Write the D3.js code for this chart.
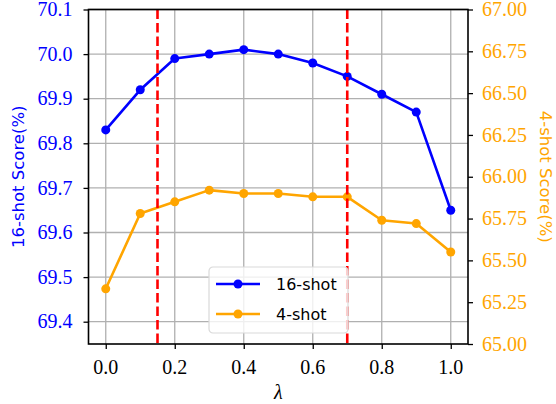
<!DOCTYPE html>
<html>
<head>
<meta charset="utf-8">
<script src="https://cdn.jsdelivr.net/npm/d3@7"></script>
</head>
<body style="margin:0">
<script>
// data
var lambdas = [0.0, 0.1, 0.2, 0.3, 0.4, 0.5, 0.6, 0.7, 0.8, 0.9, 1.0];
var shot16 = [69.83, 69.92, 69.99, 70.00, 70.01, 70.00, 69.98, 69.95, 69.91, 69.87, 69.65];
var shot4 = [65.33, 65.78, 65.85, 65.92, 65.90, 65.90, 65.88, 65.88, 65.74, 65.72, 65.55];
var xTicks = [0.0, 0.2, 0.4, 0.6, 0.8, 1.0];
var leftTicks = [69.4, 69.5, 69.6, 69.7, 69.8, 69.9, 70.0, 70.1];
var rightTicks = [65.00, 65.25, 65.50, 65.75, 66.00, 66.25, 66.50, 66.75, 67.00];
var splitLines = [0.15, 0.7];

var width = 556, height = 404;
var plot = {left: 88.5, right: 468, top: 9.5, bottom: 344};

var blue = "#0000ff", orange = "#ffa500";
var serif = "Liberation Serif";
var sans = "DejaVu Sans";

var svg = d3.select("body")
  .append("svg")
  .attr("width", width)
  .attr("height", height)
  .style("display", "block");

var x = d3.scaleLinear().domain([-0.05, 1.05]).range([plot.left, plot.right]);
var yLeft = d3.scaleLinear().domain([69.35, 70.1]).range([plot.bottom, plot.top]);
var yRight = d3.scaleLinear().domain([65, 67]).range([plot.bottom, plot.top]);

// grid
var grid = svg.append("g");
grid.selectAll(".vg").data(xTicks).enter().append("line")
  .attr("x1", d => x(d)).attr("x2", d => x(d))
  .attr("y1", plot.top).attr("y2", plot.bottom)
  .attr("stroke", "#b0b0b0").attr("stroke-width", 1.3);
grid.selectAll(".hg").data(leftTicks).enter().append("line")
  .attr("x1", plot.left).attr("x2", plot.right)
  .attr("y1", d => yLeft(d)).attr("y2", d => yLeft(d))
  .attr("stroke", "#b0b0b0").attr("stroke-width", 1.3);

// series
function drawSeries(values, yScale, color) {
  var line = d3.line().x((d, i) => x(lambdas[i])).y(d => yScale(d));
  svg.append("path").datum(values)
    .attr("d", line)
    .attr("fill", "none")
    .attr("stroke", color)
    .attr("stroke-width", 2.6)
    .attr("stroke-linejoin", "round");
  svg.selectAll(null).data(values).enter().append("circle")
    .attr("cx", (d, i) => x(lambdas[i]))
    .attr("cy", d => yScale(d))
    .attr("r", 4.5)
    .attr("fill", color);
}
drawSeries(shot16, yLeft, blue);
drawSeries(shot4, yRight, orange);

// red dashed split lines
svg.selectAll(".split").data(splitLines).enter().append("line")
  .attr("x1", d => x(d)).attr("x2", d => x(d))
  .attr("y1", plot.top).attr("y2", plot.bottom)
  .attr("stroke", "#ff0000").attr("stroke-width", 2.6)
  .attr("stroke-dasharray", "9.5,4");

// axes: ticks drawn by d3, labels placed with the same scales
var xAxis = svg.append("g")
  .attr("transform", "translate(0," + plot.bottom + ")")
  .call(d3.axisBottom(x).tickValues(xTicks).tickFormat("").tickSizeOuter(0).tickSize(5));
var lAxis = svg.append("g")
  .attr("transform", "translate(" + plot.left + ",0)")
  .call(d3.axisLeft(yLeft).tickValues(leftTicks).tickFormat("").tickSizeOuter(0).tickSize(5));
var rAxis = svg.append("g")
  .attr("transform", "translate(" + plot.right + ",0)")
  .call(d3.axisRight(yRight).tickValues(rightTicks).tickFormat("").tickSizeOuter(0).tickSize(5));
[xAxis, lAxis, rAxis].forEach(function(a) {
  a.select(".domain").remove();
  a.selectAll(".tick text").remove();
  a.selectAll(".tick line").attr("stroke", "#000").attr("stroke-width", 1.3);
});

svg.selectAll(".xl").data(xTicks).enter().append("text")
  .attr("x", d => x(d)).attr("y", plot.bottom + 29.5)
  .attr("text-anchor", "middle")
  .attr("font-family", serif).attr("font-size", 20)
  .attr("fill", "#000")
  .text(d3.format(".1f"));
svg.selectAll(".ll").data(leftTicks).enter().append("text")
  .attr("x", plot.left - 16).attr("y", d => yLeft(d) + 6.6)
  .attr("text-anchor", "end")
  .attr("font-family", serif).attr("font-size", 20)
  .attr("fill", blue)
  .text(d3.format(".1f"));
svg.selectAll(".rl").data(rightTicks).enter().append("text")
  .attr("x", plot.right + 14).attr("y", d => yRight(d) + 6.6)
  .attr("text-anchor", "start")
  .attr("font-family", serif).attr("font-size", 20)
  .attr("fill", orange)
  .text(d3.format(".2f"));

// frame
svg.append("rect")
  .attr("x", plot.left).attr("y", plot.top)
  .attr("width", plot.right - plot.left).attr("height", plot.bottom - plot.top)
  .attr("fill", "none").attr("stroke", "#000").attr("stroke-width", 1.6);

// axis labels
var midY = (plot.top + plot.bottom) / 2;
svg.append("text")
  .attr("transform", "translate(24," + midY + ") rotate(-90)")
  .attr("text-anchor", "middle")
  .attr("font-family", sans).attr("font-size", 16.5)
  .attr("fill", blue)
  .text("16-shot Score(%)");
svg.append("text")
  .attr("transform", "translate(540," + midY + ") rotate(90)")
  .attr("text-anchor", "middle")
  .attr("font-family", sans).attr("font-size", 16.5)
  .attr("fill", orange)
  .text("4-shot Score(%)");
svg.append("text")
  .attr("x", (plot.left + plot.right) / 2).attr("y", 399)
  .attr("text-anchor", "middle")
  .attr("font-family", serif).attr("font-style", "italic").attr("font-size", 20)
  .text("λ");

// legend
var legendItems = [{label: "16-shot", color: blue}, {label: "4-shot", color: orange}];
var legend = svg.append("g").attr("transform", "translate(209,267)");
legend.append("rect")
  .attr("width", 139).attr("height", 66).attr("rx", 4)
  .attr("fill", "#fff").attr("fill-opacity", 0.8)
  .attr("stroke", "#d9d9d9").attr("stroke-width", 1.2);
var rows = legend.selectAll(".row").data(legendItems).enter().append("g")
  .attr("transform", (d, i) => "translate(0," + (17 + i * 30) + ")");
rows.append("line")
  .attr("x1", 7).attr("x2", 51)
  .attr("stroke", d => d.color).attr("stroke-width", 2.6);
rows.append("circle").attr("cx", 29).attr("r", 4.5).attr("fill", d => d.color);
rows.append("text")
  .attr("x", 67).attr("y", 6)
  .attr("font-family", sans).attr("font-size", 16)
  .attr("fill", "#000")
  .text(d => d.label);
</script>
</body>
</html>
